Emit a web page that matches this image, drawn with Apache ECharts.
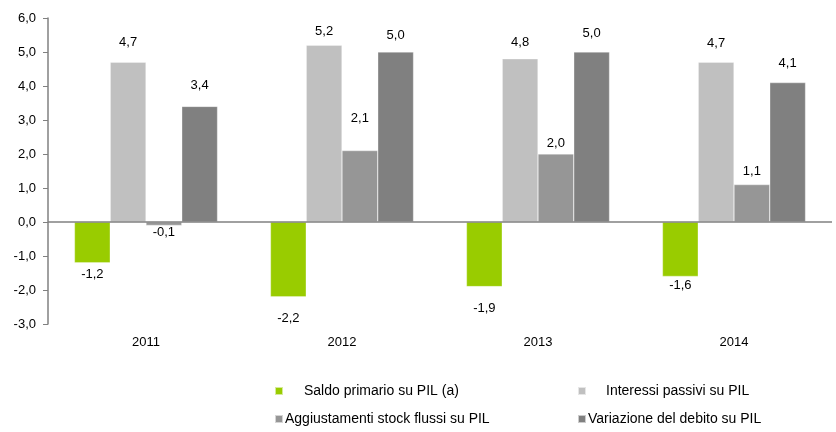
<!DOCTYPE html>
<html>
<head>
<meta charset="utf-8">
<script src="https://cdn.jsdelivr.net/npm/echarts@6/dist/echarts.min.js"></script>
<style>
  html, body { margin: 0; padding: 0; background: #fff; }
  #chart { width: 836px; height: 432px; }
</style>
</head>
<body>
<div id="chart"></div>
<script>
const years = ['2011', '2012', '2013', '2014'];
const seriesNames = ['Saldo primario su PIL (a)', 'Interessi passivi su PIL',
  'Aggiustamenti stock flussi su PIL', 'Variazione del debito su PIL'];
const saldo = [-1.2, -2.2, -1.9, -1.6];
const interessi = [4.7, 5.2, 4.8, 4.7];
const aggiustamenti = [-0.1, 2.1, 2.0, 1.1];
const variazione = [3.4, 5.0, 5.0, 4.1];
const colors = ['#99cc00', '#c0c0c0', '#969696', '#808080'];

// label gap (px) from bar end, as the original spreadsheet placed them
const labelGap = [
  [5, 15, 15, 3],
  [13, 7, 10, 12],
  [1, 26, 4, 7],
  [14, 10, 12, 13]
];

const fmt = v => v.toFixed(1).replace('.', ',');
const font = '"Liberation Sans", Arial, sans-serif';

function bar(idx, data) {
  return {
    name: seriesNames[idx],
    type: 'bar',
    barGap: '0%',
    barCategoryGap: '27%',
    itemStyle: { color: colors[idx], borderColor: 'rgba(255,255,255,0.6)', borderWidth: 0.5 },
    label: {
      show: true,
      color: '#000',
      fontFamily: font,
      fontSize: 13,
      formatter: p => fmt(p.value)
    },
    data: data.map((v, i) => ({
      value: v,
      label: { position: v < 0 ? 'bottom' : 'top', distance: labelGap[idx][i] }
    }))
  };
}

const series = [bar(0, saldo), bar(1, interessi), bar(2, aggiustamenti), bar(3, variazione)];
series[0].markLine = {
  silent: true,
  symbol: 'none',
  label: { show: false },
  lineStyle: { color: '#808080', type: 'solid', width: 1.5 },
  data: [{ yAxis: 0 }]
};

function legendItem(name, left, top, pad) {
  return {
    data: [name],
    left: left,
    top: top,
    itemWidth: 8,
    itemHeight: 8,
    icon: 'rect',
    selectedMode: false,
    padding: 0,
    textStyle: { fontFamily: font, fontSize: 14, color: '#000', padding: [0, 0, 0, pad] }
  };
}

const chart = echarts.init(document.getElementById('chart'), null, { renderer: 'canvas' });
chart.setOption({
  animation: false,
  backgroundColor: '#fff',
  grid: { left: 48, right: 4, top: 18, bottom: 108 },
  legend: [
    legendItem(seriesNames[0], 274, 384, 16),
    legendItem(seriesNames[1], 577, 384, 15),
    legendItem(seriesNames[2], 274, 412, -3),
    legendItem(seriesNames[3], 577, 412, -3)
  ],
  xAxis: {
    type: 'category',
    data: years,
    axisLine: { show: false, onZero: false },
    axisTick: { show: false },
    axisLabel: { color: '#000', fontFamily: font, fontSize: 13, margin: 12 }
  },
  yAxis: {
    type: 'value',
    min: -3,
    max: 6,
    interval: 1,
    axisLine: { show: true, lineStyle: { color: '#808080', width: 1.5 } },
    axisTick: { show: true, length: 5, lineStyle: { color: '#808080' } },
    splitLine: { show: false },
    axisLabel: { color: '#000', fontFamily: font, fontSize: 13, margin: 12, formatter: v => fmt(v) }
  },
  series: series
});
</script>
</body>
</html>
